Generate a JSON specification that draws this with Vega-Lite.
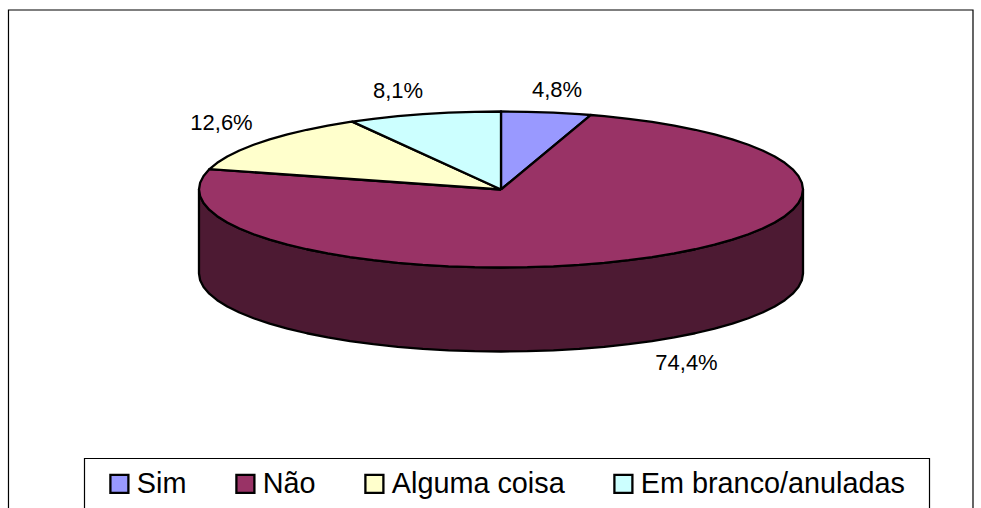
{
"$schema":"https://vega.github.io/schema/vega-lite/v6.json",
"width":981,"height":508,"padding":0,"autosize":{"type":"none"},
"background":"white",
"view":{"stroke":null},
"config":{"font":"Liberation Sans"},
"datasets":{
"frames":[{"frame":"chart","x":-1.6308,"x2":1.5629,"y":2.3013,"y2":-4.2},{"frame":"legend","x":-1.3791,"x2":1.4189,"y":-3.4487,"y2":-4.2}],
"side":[
{"seq":1,"x":1,"y":0},{"seq":2,"x":0.9962,"y":-0.0872},{"seq":3,"x":0.9848,"y":-0.1736},{"seq":4,"x":0.9659,"y":-0.2588},{"seq":5,"x":0.9397,"y":-0.342},{"seq":6,"x":0.9063,"y":-0.4226},{"seq":7,"x":0.866,"y":-0.5},{"seq":8,"x":0.8192,"y":-0.5736},{"seq":9,"x":0.766,"y":-0.6428},{"seq":10,"x":0.7071,"y":-0.7071},{"seq":11,"x":0.6428,"y":-0.766},{"seq":12,"x":0.5736,"y":-0.8192},{"seq":13,"x":0.5,"y":-0.866},{"seq":14,"x":0.4226,"y":-0.9063},{"seq":15,"x":0.342,"y":-0.9397},{"seq":16,"x":0.2588,"y":-0.9659},{"seq":17,"x":0.1736,"y":-0.9848},{"seq":18,"x":0.0872,"y":-0.9962},{"seq":19,"x":0,"y":-1},
{"seq":20,"x":-0.0872,"y":-0.9962},{"seq":21,"x":-0.1736,"y":-0.9848},{"seq":22,"x":-0.2588,"y":-0.9659},{"seq":23,"x":-0.342,"y":-0.9397},{"seq":24,"x":-0.4226,"y":-0.9063},{"seq":25,"x":-0.5,"y":-0.866},{"seq":26,"x":-0.5736,"y":-0.8192},{"seq":27,"x":-0.6428,"y":-0.766},{"seq":28,"x":-0.7071,"y":-0.7071},{"seq":29,"x":-0.766,"y":-0.6428},{"seq":30,"x":-0.8192,"y":-0.5736},{"seq":31,"x":-0.866,"y":-0.5},{"seq":32,"x":-0.9063,"y":-0.4226},{"seq":33,"x":-0.9397,"y":-0.342},{"seq":34,"x":-0.9659,"y":-0.2588},{"seq":35,"x":-0.9848,"y":-0.1736},{"seq":36,"x":-0.9962,"y":-0.0872},{"seq":37,"x":-1,"y":0},
{"seq":38,"x":-1,"y":-1.0769},{"seq":39,"x":-0.9962,"y":-1.1641},{"seq":40,"x":-0.9848,"y":-1.2505},{"seq":41,"x":-0.9659,"y":-1.3357},{"seq":42,"x":-0.9397,"y":-1.4189},{"seq":43,"x":-0.9063,"y":-1.4995},{"seq":44,"x":-0.866,"y":-1.5769},{"seq":45,"x":-0.8192,"y":-1.6505},{"seq":46,"x":-0.766,"y":-1.7197},{"seq":47,"x":-0.7071,"y":-1.784},{"seq":48,"x":-0.6428,"y":-1.8429},{"seq":49,"x":-0.5736,"y":-1.8961},{"seq":50,"x":-0.5,"y":-1.9429},{"seq":51,"x":-0.4226,"y":-1.9832},{"seq":52,"x":-0.342,"y":-2.0166},{"seq":53,"x":-0.2588,"y":-2.0428},{"seq":54,"x":-0.1736,"y":-2.0617},{"seq":55,"x":-0.0872,"y":-2.0731},{"seq":56,"x":0,"y":-2.0769},
{"seq":57,"x":0.0872,"y":-2.0731},{"seq":58,"x":0.1736,"y":-2.0617},{"seq":59,"x":0.2588,"y":-2.0428},{"seq":60,"x":0.342,"y":-2.0166},{"seq":61,"x":0.4226,"y":-1.9832},{"seq":62,"x":0.5,"y":-1.9429},{"seq":63,"x":0.5736,"y":-1.8961},{"seq":64,"x":0.6428,"y":-1.8429},{"seq":65,"x":0.7071,"y":-1.784},{"seq":66,"x":0.766,"y":-1.7197},{"seq":67,"x":0.8192,"y":-1.6505},{"seq":68,"x":0.866,"y":-1.5769},{"seq":69,"x":0.9063,"y":-1.4995},{"seq":70,"x":0.9397,"y":-1.4189},{"seq":71,"x":0.9659,"y":-1.3357},{"seq":72,"x":0.9848,"y":-1.2505},{"seq":73,"x":0.9962,"y":-1.1641},{"seq":74,"x":1,"y":-1.0769},{"seq":75,"x":1,"y":0}
],
"wedges":[
{"part":"Sim","seq":1,"x":0,"y":0},{"part":"Sim","seq":2,"x":0,"y":1},{"part":"Sim","seq":3,"x":0.0872,"y":0.9962},{"part":"Sim","seq":4,"x":0.1736,"y":0.9848},{"part":"Sim","seq":5,"x":0.2588,"y":0.9659},{"part":"Sim","seq":6,"x":0.297,"y":0.9549},{"part":"Sim","seq":7,"x":0,"y":0},
{"part":"Não","seq":1,"x":0,"y":0},{"part":"Não","seq":2,"x":0.297,"y":0.9549},{"part":"Não","seq":3,"x":0.342,"y":0.9397},{"part":"Não","seq":4,"x":0.4226,"y":0.9063},{"part":"Não","seq":5,"x":0.5,"y":0.866},{"part":"Não","seq":6,"x":0.5736,"y":0.8192},{"part":"Não","seq":7,"x":0.6428,"y":0.766},{"part":"Não","seq":8,"x":0.7071,"y":0.7071},{"part":"Não","seq":9,"x":0.766,"y":0.6428},{"part":"Não","seq":10,"x":0.8192,"y":0.5736},{"part":"Não","seq":11,"x":0.866,"y":0.5},{"part":"Não","seq":12,"x":0.9063,"y":0.4226},{"part":"Não","seq":13,"x":0.9397,"y":0.342},{"part":"Não","seq":14,"x":0.9659,"y":0.2588},{"part":"Não","seq":15,"x":0.9848,"y":0.1736},{"part":"Não","seq":16,"x":0.9962,"y":0.0872},
{"part":"Não","seq":17,"x":1,"y":0},{"part":"Não","seq":18,"x":0.9962,"y":-0.0872},{"part":"Não","seq":19,"x":0.9848,"y":-0.1736},{"part":"Não","seq":20,"x":0.9659,"y":-0.2588},{"part":"Não","seq":21,"x":0.9397,"y":-0.342},{"part":"Não","seq":22,"x":0.9063,"y":-0.4226},{"part":"Não","seq":23,"x":0.866,"y":-0.5},{"part":"Não","seq":24,"x":0.8192,"y":-0.5736},{"part":"Não","seq":25,"x":0.766,"y":-0.6428},{"part":"Não","seq":26,"x":0.7071,"y":-0.7071},{"part":"Não","seq":27,"x":0.6428,"y":-0.766},{"part":"Não","seq":28,"x":0.5736,"y":-0.8192},{"part":"Não","seq":29,"x":0.5,"y":-0.866},{"part":"Não","seq":30,"x":0.4226,"y":-0.9063},{"part":"Não","seq":31,"x":0.342,"y":-0.9397},{"part":"Não","seq":32,"x":0.2588,"y":-0.9659},{"part":"Não","seq":33,"x":0.1736,"y":-0.9848},{"part":"Não","seq":34,"x":0.0872,"y":-0.9962},{"part":"Não","seq":35,"x":0,"y":-1},
{"part":"Não","seq":36,"x":-0.0872,"y":-0.9962},{"part":"Não","seq":37,"x":-0.1736,"y":-0.9848},{"part":"Não","seq":38,"x":-0.2588,"y":-0.9659},{"part":"Não","seq":39,"x":-0.342,"y":-0.9397},{"part":"Não","seq":40,"x":-0.4226,"y":-0.9063},{"part":"Não","seq":41,"x":-0.5,"y":-0.866},{"part":"Não","seq":42,"x":-0.5736,"y":-0.8192},{"part":"Não","seq":43,"x":-0.6428,"y":-0.766},{"part":"Não","seq":44,"x":-0.7071,"y":-0.7071},{"part":"Não","seq":45,"x":-0.766,"y":-0.6428},{"part":"Não","seq":46,"x":-0.8192,"y":-0.5736},{"part":"Não","seq":47,"x":-0.866,"y":-0.5},{"part":"Não","seq":48,"x":-0.9063,"y":-0.4226},{"part":"Não","seq":49,"x":-0.9397,"y":-0.342},{"part":"Não","seq":50,"x":-0.9659,"y":-0.2588},{"part":"Não","seq":51,"x":-0.9848,"y":-0.1736},{"part":"Não","seq":52,"x":-0.9962,"y":-0.0872},{"part":"Não","seq":53,"x":-1,"y":0},{"part":"Não","seq":54,"x":-0.9962,"y":0.0872},{"part":"Não","seq":55,"x":-0.9848,"y":0.1736},{"part":"Não","seq":56,"x":-0.9659,"y":0.2588},{"part":"Não","seq":57,"x":-0.9654,"y":0.2609},{"part":"Não","seq":58,"x":0,"y":0},
{"part":"Alguma coisa","seq":1,"x":0,"y":0},{"part":"Alguma coisa","seq":2,"x":-0.9654,"y":0.2609},{"part":"Alguma coisa","seq":3,"x":-0.9397,"y":0.342},{"part":"Alguma coisa","seq":4,"x":-0.9063,"y":0.4226},{"part":"Alguma coisa","seq":5,"x":-0.866,"y":0.5},{"part":"Alguma coisa","seq":6,"x":-0.8192,"y":0.5736},{"part":"Alguma coisa","seq":7,"x":-0.766,"y":0.6428},{"part":"Alguma coisa","seq":8,"x":-0.7071,"y":0.7071},{"part":"Alguma coisa","seq":9,"x":-0.6428,"y":0.766},{"part":"Alguma coisa","seq":10,"x":-0.5736,"y":0.8192},{"part":"Alguma coisa","seq":11,"x":-0.5,"y":0.866},{"part":"Alguma coisa","seq":12,"x":-0.4927,"y":0.8702},{"part":"Alguma coisa","seq":13,"x":0,"y":0},
{"part":"Em branco/anuladas","seq":1,"x":0,"y":0},{"part":"Em branco/anuladas","seq":2,"x":-0.4927,"y":0.8702},{"part":"Em branco/anuladas","seq":3,"x":-0.4226,"y":0.9063},{"part":"Em branco/anuladas","seq":4,"x":-0.342,"y":0.9397},{"part":"Em branco/anuladas","seq":5,"x":-0.2588,"y":0.9659},{"part":"Em branco/anuladas","seq":6,"x":-0.1736,"y":0.9848},{"part":"Em branco/anuladas","seq":7,"x":-0.0872,"y":0.9962},{"part":"Em branco/anuladas","seq":8,"x":0,"y":1},{"part":"Em branco/anuladas","seq":9,"x":0,"y":0}
],
"labels":[
{"part":"Sim","label":"4,8%","x":0.1854,"y":1.2756},
{"part":"Não","label":"74,4%","x":0.6142,"y":-2.2244},
{"part":"Alguma coisa","label":"12,6%","x":-0.9255,"y":0.8526},
{"part":"Em branco/anuladas","label":"8,1%","x":-0.3411,"y":1.2628}
]
},
"layer":[
{"data":{"name":"frames"},
 "mark":{"type":"rect","filled":false,"stroke":"black","strokeWidth":1.2,"clip":true},
 "encoding":{
  "x":{"field":"x","type":"quantitative","axis":null,"scale":{"domain":[-1.6589,1.5894],"nice":false,"zero":false}},
  "x2":{"field":"x2"},
  "y":{"field":"y","type":"quantitative","axis":null,"scale":{"domain":[-4.0833,2.4295],"nice":false,"zero":false}},
  "y2":{"field":"y2"}}},
{"data":{"name":"side"},
 "mark":{"type":"line","fill":"#4D1A33","stroke":"black","strokeWidth":2.3,"strokeJoin":"round"},
 "encoding":{
  "x":{"field":"x","type":"quantitative","axis":null},
  "y":{"field":"y","type":"quantitative","axis":null},
  "order":{"field":"seq","type":"quantitative"}}},
{"data":{"name":"wedges"},
 "mark":{"type":"line","filled":true,"stroke":"black","strokeWidth":2.3,"strokeJoin":"round"},
 "encoding":{
  "x":{"field":"x","type":"quantitative","axis":null},
  "y":{"field":"y","type":"quantitative","axis":null},
  "order":{"field":"seq","type":"quantitative"},
  "fill":{"field":"part","type":"nominal",
   "scale":{"domain":["Sim","Não","Alguma coisa","Em branco/anuladas"],"range":["#9999FF","#993366","#FFFFCC","#CCFFFF"]},
   "legend":{"title":null,"orient":"none","legendX":105,"legendY":469,"direction":"horizontal","columns":4,"columnPadding":44,
    "symbolType":"square","symbolSize":324,"symbolStrokeColor":"black","symbolStrokeWidth":2.3,"symbolOpacity":1,
    "labelFont":"Liberation Sans","labelFontSize":28.8,"labelColor":"black","labelOffset":3,"labelLimit":400,"padding":0}}}},
{"data":{"name":"labels"},
 "mark":{"type":"text","font":"Liberation Sans","fontSize":22,"color":"black","baseline":"middle","align":"center"},
 "encoding":{
  "x":{"field":"x","type":"quantitative","axis":null},
  "y":{"field":"y","type":"quantitative","axis":null},
  "text":{"field":"label"}}}
]
}
